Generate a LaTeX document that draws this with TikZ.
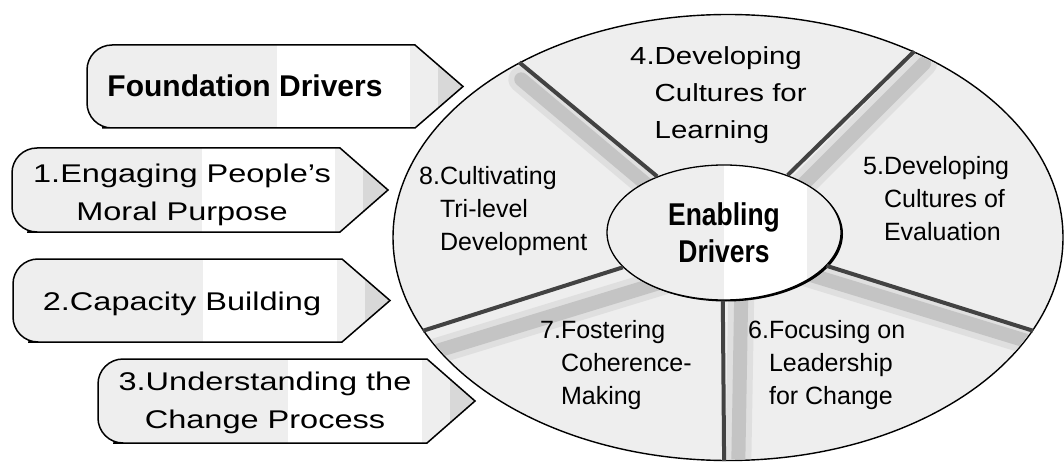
\documentclass[tikz,border=0pt]{standalone}
\usepackage{fontspec}
\setmainfont{Liberation Sans}
\newfontfamily\widefont{Liberation Sans}[FakeStretch=1.27]
\newfontfamily\semiwide{Liberation Sans}[FakeStretch=1.19]
\newfontfamily\narrowbold{Liberation Sans Bold}[FakeStretch=0.84]
\usetikzlibrary{shapes.geometric,shadows}

\definecolor{bandgray}{RGB}{238,238,238}
\definecolor{tipgray}{RGB}{216,216,216}
\definecolor{spokegray}{RGB}{66,66,66}
\definecolor{shadegray}{RGB}{196,196,196}

\newcommand\numlines[2]{#1\begin{tabular}[t]{@{}l@{}}#2\end{tabular}}
\newcommand\midlines[1]{\begin{tabular}[t]{@{}c@{}}#1\end{tabular}}

% left x, corner x, top y, bottom y
\newcommand\driverarrow[4]{%
  \begin{scope}
    \clip (#2,#3) -- (#1+40,#3) [rounded corners=25] -- (#1,#3) -- (#1,#4) -- (#1+40,#4) [sharp corners] -- (#2,#4) -- (#2+48,{(#3+#4)/2}) -- cycle;
    \fill[bandgray] (#1,#3) rectangle (#1+190,#4);
    \fill[white] (#1+190,#3) rectangle (#2-5,#4);
    \fill[bandgray] (#2-5,#3) rectangle (#2+23,#4);
    \fill[tipgray] (#2+23,#3) rectangle (#2+48,#4);
  \end{scope}
  \draw[arrowline] (#2,#3) -- (#1+40,#3) [rounded corners=25] -- (#1,#3) -- (#1,#4) -- (#1+40,#4) [sharp corners] -- (#2,#4) -- (#2+48,{(#3+#4)/2}) -- cycle;}

\begin{document}
\begin{tikzpicture}[x=1pt,y=-1pt,
  arrowline/.style={line width=1.5pt},
  lefttext/.style={font=\widefont\fontsize{25.6}{38}\selectfont,inner sep=0,anchor=base},
  sectortext/.style={font=\fontsize{25}{33}\selectfont,inner sep=0,anchor=base west},
  rim/.style={ellipse,draw,line width=1.4pt,fill=bandgray,inner sep=0,minimum width=670pt,minimum height=446pt},
  hub/.style={ellipse,draw,line width=1.3pt,fill=bandgray,inner sep=0,minimum width=234pt,minimum height=135pt,
    align=center,font=\narrowbold\fontsize{31.5}{37.5}\selectfont,
    general shadow={fill=black,shadow xshift=2pt,shadow yshift=-1.5pt}},
  spoke/.style={draw=spokegray,line width=4pt},
  spokeshade/.style={draw=shadegray!55,line width=26pt,line cap=round,
    postaction={draw=shadegray,line width=14pt,line cap=round}}]
\useasboundingbox (0,0) rectangle (1064,470);
\fill[white] (0,0) rectangle (1064,470);

% foundation drivers
\driverarrow{87}{415}{45}{128}
\driverarrow{12}{340}{148}{232}
\driverarrow{13}{342}{259}{342}
\driverarrow{98}{427}{359}{443}
\node[font=\bfseries\fontsize{30}{36}\selectfont,inner sep=0,anchor=base] (found) at (245,97) {Foundation Drivers};
\node[lefttext] (engage) at (182,183) {\midlines{1.Engaging People’s\\Moral Purpose}};
\node[lefttext] (capacity) at (182,310.5) {2.Capacity Building};
\node[lefttext] (change) at (265,390.5) {\midlines{3.Understanding the\\Change Process}};

% enabling drivers
\node[rim,path picture={
  \begin{scope}[shift={(path picture bounding box.center)},shift={(-728,-237.5)}]
    \fill[white] (985,45) -- (1045,45) -- (1018,320) -- (850,258) -- cycle;
    \fill[white] (768,300) -- (840,292) -- (1000,345) -- (1070,345) -- (1070,470) -- (768,470) -- cycle;
    \fill[bandgray] (1040,150) -- (1070,150) -- (1070,345) -- (1015,345) -- cycle;
  \end{scope}}] (outer) at (728,237.5) {};
\begin{scope}
  \clip (outer.center) ellipse [x radius=334,y radius=222];
  \foreach \a/\dx/\dy in {140/2/17,45/10/12,-17/6/14,-91/14/12,197/8/22}
    \draw[spokeshade] ([shift={(\dx,\dy)}]outer.center) -- ([shift={(\dx,\dy)}]outer.\a);
\end{scope}
\node[hub,path picture={\fill[white] (path picture bounding box.north) rectangle ([xshift=83pt]path picture bounding box.south);}] (enab) at (724,232.5) {Enabling\\Drivers};
\foreach \i/\o in {140/140,42/45,-18/-17,-91/-91,199/197}
  \draw[spoke] (enab.\i) -- (outer.\o);

\node[sectortext,font=\semiwide\fontsize{24.7}{37}\selectfont] (learning) at (630,65) {\numlines{4.}{Developing\\Cultures for\\Learning}};
\node[sectortext] (evaluation) at (863,175) {\numlines{5.}{Developing\\Cultures of\\Evaluation}};
\node[sectortext] (leadership) at (748,338) {\numlines{6.}{Focusing on\\Leadership\\for Change}};
\node[sectortext] (coherence) at (540,338) {\numlines{7.}{Fostering\\Coherence-\\Making}};
\node[sectortext] (trilevel) at (419,185) {\numlines{8.}{Cultivating\\Tri-level\\Development}};
\end{tikzpicture}
\end{document}
